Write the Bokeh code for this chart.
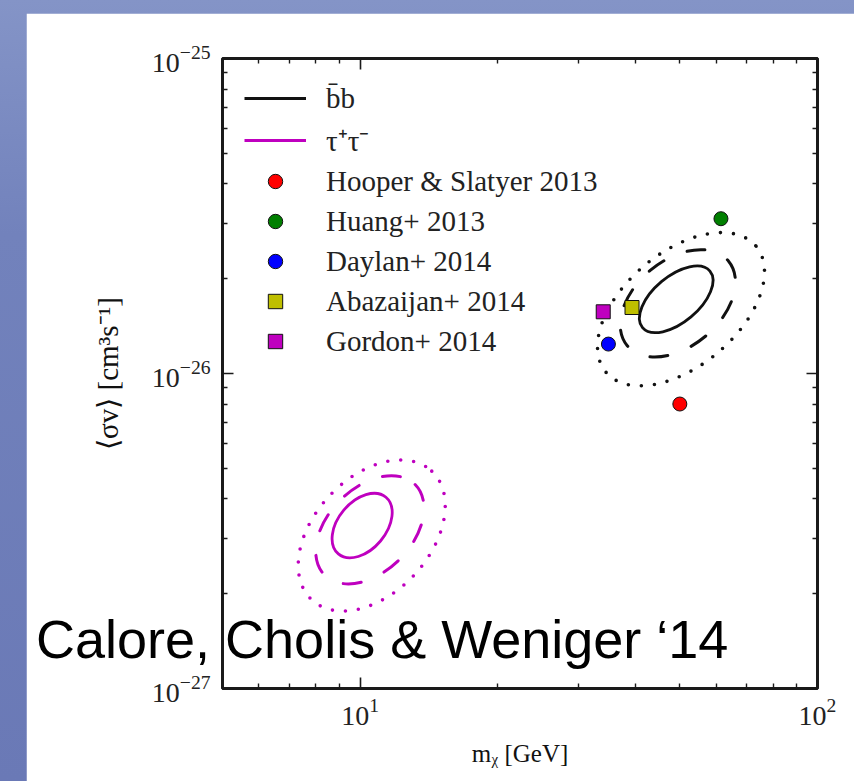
import math
from bokeh.plotting import figure
from bokeh.models import (LogAxis, Legend, LegendItem, CustomJSTickFormatter,
                          FixedTicker, LogTickFormatter, Div)
from bokeh.layouts import column
from bokeh.embed import file_html
from bokeh.resources import INLINE

# ---------------- data ----------------
point_labels = ["Hooper & Slatyer 2013", "Huang+ 2013", "Daylan+ 2014",
                "Abazaijan+ 2014", "Gordon+ 2014"]
point_mass = [50.0, 61.5, 34.9, 39.3, 34.0]          # GeV
point_sigv = [8.0e-27, 3.1e-26, 1.24e-26, 1.62e-26, 1.57e-26]  # cm^3 s^-1
point_marker = ["circle", "circle", "circle", "square", "square"]
point_color = ["#ff0000", "#007f00", "#0000ff", "#bfbf00", "#bf00bf"]

contour_levels = ["1 sigma", "2 sigma", "3 sigma"]
bb_center_mass = [49.1, 49.5, 50.3]
bb_center_sigv = [1.72e-26, 1.67e-26, 1.60e-26]
tau_center_mass = [10.1, 10.5, 10.6]
tau_center_sigv = [3.29e-27, 3.19e-27, 3.06e-27]

x_major_ticks = [10, 100]
x_minor_ticks = [5, 6, 7, 8, 9, 20, 30, 40, 50, 60, 70, 80, 90]
y_major_ticks = [1e-27, 1e-26, 1e-25]
y_minor_ticks = [2e-27, 3e-27, 4e-27, 5e-27, 6e-27, 7e-27, 8e-27, 9e-27,
                 2e-26, 3e-26, 4e-26, 5e-26, 6e-26, 7e-26, 8e-26, 9e-26]

citation = "Calore, Cholis &amp; Weniger \u201814"

# ---------------- styles ----------------
MAG = "#bf00bf"
SERIF = "Liberation Serif"
# semi axes (px) and tilt (deg) of the contour outlines, per level
bb_shape = [(44, 23, 40), (66, 43, 40), (98, 57, 40)]
tau_shape = [(37, 24, 50), (64, 42, 45), (88, 58, 47)]
level_dash = ["solid", "18 25", "0 13"]
level_width = [2.8, 3.0, 3.6]

p = figure(width=828, height=768, x_axis_type="log", y_axis_type="log",
           x_range=(5, 100), y_range=(1e-27, 1e-25),
           output_backend="svg", toolbar_location=None,
           min_border_left=196, min_border_right=37,
           min_border_top=45, min_border_bottom=93)
p.margin = (13, 0, 0, 26)
p.xgrid.visible = False
p.ygrid.visible = False
p.background_fill_color = "white"
p.border_fill_color = "white"
p.outline_line_color = "#1a1a1a"
p.outline_line_width = 2.8

# main axes
p.xaxis.ticker = FixedTicker(ticks=x_major_ticks, minor_ticks=x_minor_ticks)
p.xaxis.formatter = LogTickFormatter()
p.yaxis.ticker = FixedTicker(ticks=y_major_ticks, minor_ticks=y_minor_ticks)
p.yaxis.formatter = LogTickFormatter()

def style_axis(ax):
    ax.axis_line_color = "#1a1a1a"
    ax.axis_line_width = 2.8
    ax.major_tick_in = 11
    ax.major_tick_out = 0
    ax.minor_tick_in = 5
    ax.minor_tick_out = 0
    ax.major_tick_line_color = "#1a1a1a"
    ax.minor_tick_line_color = "#1a1a1a"
    ax.major_tick_line_width = 1.6
    ax.minor_tick_line_width = 1.4
    ax.major_label_text_font = SERIF
    ax.major_label_text_font_size = "28px"
    ax.major_label_text_color = "#222222"
    ax.axis_label_text_font = SERIF
    ax.axis_label_text_font_style = "normal"
    ax.axis_label_text_color = "#111111"

for ax in (p.xaxis[0], p.yaxis[0]):
    style_axis(ax)

p.xaxis.major_label_standoff = 10
p.yaxis.major_label_standoff = 12
p.xaxis.axis_label = "m\u1d6a [GeV]"
p.xaxis.axis_label_text_font_size = "25px"
p.xaxis.axis_label_standoff = 12
p.yaxis.axis_label = "\u27e8\u03c3v\u27e9 [cm\u00b3s\u207b\u00b9]"
p.yaxis.axis_label_text_font_size = "29px"
p.yaxis.axis_label_standoff = 25

# mirrored tick axes (top / right), no labels
top = LogAxis(ticker=FixedTicker(ticks=x_major_ticks, minor_ticks=x_minor_ticks),
              formatter=CustomJSTickFormatter(code="return ''"))
right = LogAxis(ticker=FixedTicker(ticks=y_major_ticks, minor_ticks=y_minor_ticks),
                formatter=CustomJSTickFormatter(code="return ''"))
for ax in (top, right):
    style_axis(ax)
    ax.major_label_text_font_size = "1px"
    ax.major_label_standoff = 0
p.add_layout(top, "above")
p.add_layout(right, "right")

# contours
for i in range(len(contour_levels)):
    a, b, ang = bb_shape[i]
    p.ellipse(x=[bb_center_mass[i]], y=[bb_center_sigv[i]],
              width=2 * a, height=2 * b, angle=math.radians(ang),
              width_units="screen", height_units="screen",
              fill_color=None, line_color="#111111", line_width=level_width[i],
              line_dash=level_dash[i], line_cap="round")
    a, b, ang = tau_shape[i]
    p.ellipse(x=[tau_center_mass[i]], y=[tau_center_sigv[i]],
              width=2 * a, height=2 * b, angle=math.radians(ang),
              width_units="screen", height_units="screen",
              fill_color=None, line_color=MAG, line_width=level_width[i],
              line_dash=level_dash[i], line_cap="round")

# legend proxies for the channels (single-point lines: invisible in the plot)
r_bb = p.line(x=bb_center_mass[:1], y=bb_center_sigv[:1], line_color="#111111", line_width=3)
r_tau = p.line(x=tau_center_mass[:1], y=tau_center_sigv[:1], line_color=MAG, line_width=3)
items = [LegendItem(label="b\u0304b", renderers=[r_bb]),
         LegendItem(label="\u03c4\u207a\u03c4\u207b", renderers=[r_tau])]

# points
for i in range(len(point_labels)):
    r = p.scatter(x=[point_mass[i]], y=[point_sigv[i]], marker=point_marker[i],
                  size=14, fill_color=point_color[i], line_color="#111111",
                  line_width=1)
    items.append(LegendItem(label=point_labels[i], renderers=[r]))

legend = Legend(items=items, location="top_left",
                border_line_color=None, background_fill_alpha=0,
                label_text_font=SERIF, label_text_font_size="29px",
                label_text_color="#222222",
                glyph_width=62, glyph_height=36, label_height=36,
                spacing=4, label_standoff=20, margin=22, padding=0)
p.add_layout(legend)

# citation text laid over the plot
cite = Div(text='<span style="font-family:\'Liberation Sans\';font-size:54px;'
                'line-height:1;color:black;white-space:nowrap;">' + citation + '</span>',
           width=760, height=64, margin=0,
           styles={"position": "absolute", "left": "36px", "top": "612px",
                   "z-index": "10"})

layout = column(p, cite, styles={"background": "linear-gradient(180deg, #8494c7 0%, #7282bc 30%, #6a79b6 100%)",
                                 "position": "relative"})

open("out.html", "w").write(file_html(layout, INLINE))
